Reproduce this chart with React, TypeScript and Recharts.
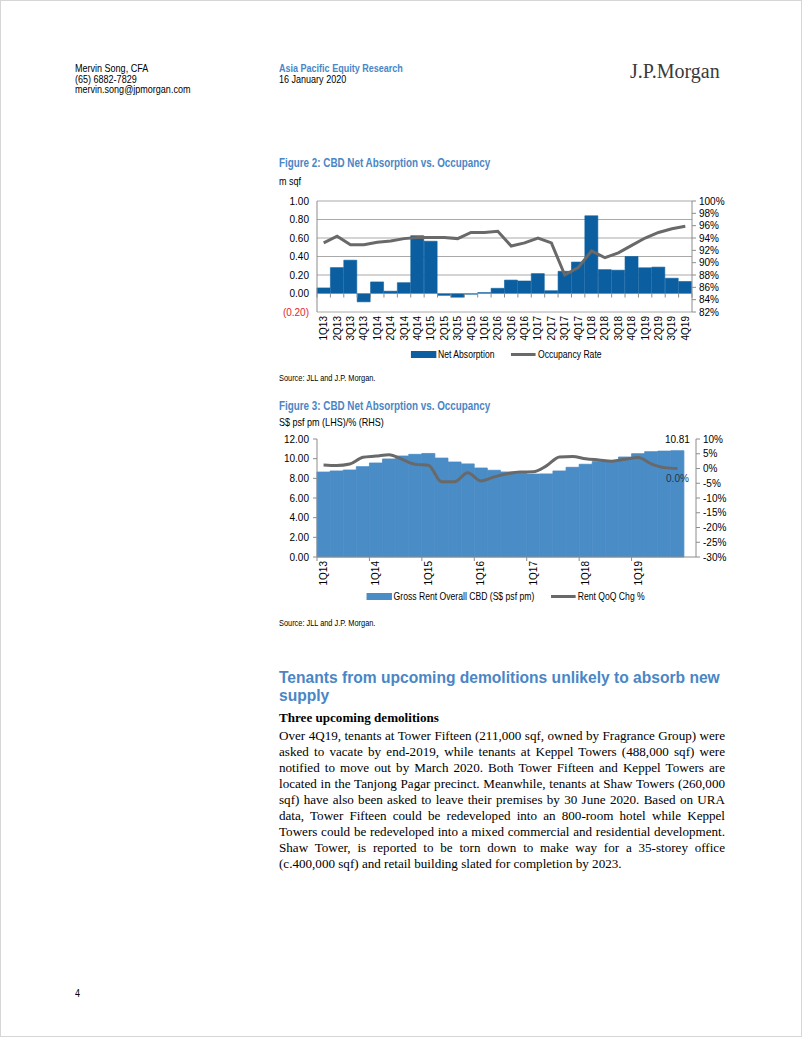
import React from 'react';
import {
  ComposedChart,
  Bar,
  Line,
  XAxis,
  YAxis,
  CartesianGrid,
  ReferenceLine,
  Legend,
  LabelList,
} from 'recharts';

// ---------- data ----------
const quarters = [
  '1Q13', '2Q13', '3Q13', '4Q13', '1Q14', '2Q14', '3Q14', '4Q14',
  '1Q15', '2Q15', '3Q15', '4Q15', '1Q16', '2Q16', '3Q16', '4Q16',
  '1Q17', '2Q17', '3Q17', '4Q17', '1Q18', '2Q18', '3Q18', '4Q18',
  '1Q19', '2Q19', '3Q19', '4Q19',
];

// Figure 2 (m sqf and %)
const netAbsorption = [
  0.06, 0.28, 0.36, -0.09, 0.125, 0.025, 0.117, 0.625,
  0.565, -0.02, -0.04, -0.008, 0.01, 0.056, 0.145, 0.135,
  0.215, 0.03, 0.24, 0.34, 0.84, 0.258, 0.252, 0.40,
  0.278, 0.285, 0.165, 0.13,
];
const occupancyRate = [
  93.2, 94.3, 92.9, 92.9, 93.3, 93.5, 93.9, 94.1,
  94.1, 94.1, 93.9, 94.9, 94.9, 95.1, 92.7, 93.2,
  94.0, 93.2, 88.0, 89.2, 91.9, 90.8, 91.6, 92.8,
  94.0, 94.9, 95.5, 95.9,
];
const absorptionTicks = [-0.2, 0, 0.2, 0.4, 0.6, 0.8, 1.0];
const occupancyTicks = [82, 84, 86, 88, 90, 92, 94, 96, 98, 100];

// Figure 3 (S$ psf pm and %)
const grossRent = [
  8.64, 8.75, 8.85, 9.19, 9.56, 9.97, 10.27, 10.44,
  10.53, 10.06, 9.66, 9.47, 9.05, 8.82, 8.65, 8.52,
  8.43, 8.45, 8.75, 9.12, 9.43, 9.72, 9.76, 10.17,
  10.51, 10.71, 10.77, 10.81,
];
const rentQoQ = [
  1.2, 1.0, 1.5, 3.8, 4.2, 4.7, 3.1, 1.4,
  1.1, -4.5, -4.5, -1.4, -4.2, -2.9, -1.8, -1.2,
  -1.1, 0.9, 3.9, 4.1, 3.3, 2.9, 2.5, 3.1,
  3.7, 1.6, 0.3, 0.0,
];
const rentTicks = [0, 2, 4, 6, 8, 10, 12];
const qoqTicks = [-30, -25, -20, -15, -10, -5, 0, 5, 10];

const fig2Data = quarters.map((q, i) => ({ q, abs: netAbsorption[i], occ: occupancyRate[i] }));
const fig3Data = quarters.map((q, i) => ({ q, rent: grossRent[i], qoq: rentQoQ[i] }));

const bodyLines = [
  'Over 4Q19, tenants at Tower Fifteen (211,000 sqf, owned by Fragrance Group) were',
  'asked to vacate by end-2019, while tenants at Keppel Towers (488,000 sqf) were',
  'notified to move out by March 2020. Both Tower Fifteen and Keppel Towers are',
  'located in the Tanjong Pagar precinct. Meanwhile, tenants at Shaw Towers (260,000',
  'sqf) have also been asked to leave their premises by 30 June 2020. Based on URA',
  'data, Tower Fifteen could be redeveloped into an 800-room hotel while Keppel',
  'Towers could be redeveloped into a mixed commercial and residential development.',
  'Shaw Tower, is reported to be torn down to make way for a 35-storey office',
  '(c.400,000 sqf) and retail building slated for completion by 2023.',
];

// ---------- styles ----------
const FONT = "'Liberation Sans', Arial, sans-serif";
const SERIF = "'Liberation Serif','Times New Roman',serif";
const BLUE_TXT = '#4A86C5';
const BAR1 = '#0B5FA0';
const BAR2 = '#4A8CC6';
const LINE_C = '#696969';
const AXIS_C = '#8c8c8c';
const GRID_C = '#a9a9a9';
const RED = '#E3262A';
const NARROW = 0.82;

// layout constants (chart 1)
const C1_W = 460;
const C1_H = 173;
const C1_TOP = 10;
const C1_LEFTW = 46;
const C1_RIGHTW = 39;
const C1_XH = 32;
const C1_LEG = 20;
const C1_PLOT_H = C1_H - C1_TOP - C1_XH - C1_LEG;
const C1_BAND = (C1_W - C1_LEFTW - C1_RIGHTW) / quarters.length;
const C1_ZERO_Y = C1_TOP + C1_PLOT_H * (1.0 / 1.2);

// chart 2
const C2_W = 460;
const C2_H = 176;
const C2_TOP = 10;
const C2_LEFTW = 46;
const C2_RIGHTW = 35;
const C2_PADR = 12;
const C2_XH = 30;
const C2_LEG = 18;
const C2_BAND = (C2_W - C2_LEFTW - C2_RIGHTW - C2_PADR) / quarters.length;

const AbsTick = (props: any) => {
  const { x, y, payload } = props;
  const v = Number(payload.value);
  const neg = v < 0;
  return (
    <text x={x} y={y} dy={3.5} textAnchor="end" fontSize={10} fontFamily={FONT} fill={neg ? RED : '#000'}>
      {neg ? `(${Math.abs(v).toFixed(2)})` : v.toFixed(2)}
    </text>
  );
};

const Fig2XTick = (props: any) => {
  const { x, y, payload, index } = props;
  const bx = x - C1_BAND / 2;
  return (
    <g>
      <line x1={bx} x2={bx} y1={C1_ZERO_Y} y2={C1_ZERO_Y + 4} stroke={AXIS_C} />
      {index === quarters.length - 1 && (
        <line x1={x + C1_BAND / 2} x2={x + C1_BAND / 2} y1={C1_ZERO_Y} y2={C1_ZERO_Y + 4} stroke={AXIS_C} />
      )}
      <text
        transform={`translate(${x},${y}) rotate(-90)`}
        dy={3.5}
        textAnchor="end"
        fontSize={10}
        fontFamily={FONT}
        fill="#000"
      >
        {payload.value}
      </text>
    </g>
  );
};

const Fig3XTick = (props: any) => {
  const { x, y, payload, index } = props;
  const bx = x - C2_BAND / 2;
  const axisY = y - 4;
  return (
    <g>
      <line x1={bx} x2={bx} y1={axisY} y2={axisY + 4} stroke={AXIS_C} />
      {index === 24 && (
        <line x1={bx + C2_BAND * 4} x2={bx + C2_BAND * 4} y1={axisY} y2={axisY + 4} stroke={AXIS_C} />
      )}
      <text
        transform={`translate(${x},${y}) rotate(-90)`}
        dy={3.5}
        textAnchor="end"
        fontSize={10}
        fontFamily={FONT}
        fill="#000"
      >
        {payload.value}
      </text>
    </g>
  );
};

// legend drawn with an Arial-Narrow look (whole row compressed around its centre)
const LegendBox = ({ items, height }: { items: { label: string; color: string; kind: 'bar' | 'line' }[]; height: number }) => (
  <div style={{ height, paddingLeft: 10, display: 'flex', justifyContent: 'center', alignItems: 'center' }}>
    <div
      style={{
        display: 'flex',
        alignItems: 'center',
        fontFamily: FONT,
        fontSize: 10.5,
        color: '#000',
        whiteSpace: 'nowrap',
        transform: `scaleX(${NARROW})`,
        transformOrigin: '50% 50%',
      }}
    >
      {items.map((it, i) => (
        <span key={it.label} style={{ display: 'inline-flex', alignItems: 'center', marginLeft: i === 0 ? 0 : 20 }}>
          <span
            style={{
              display: 'inline-block',
              width: 30.5,
              height: it.kind === 'bar' ? 7 : 3,
              background: it.color,
              marginRight: 2.5,
            }}
          />
          {it.label}
        </span>
      ))}
    </div>
  </div>
);

// Arial-Narrow-like text: Liberation Sans compressed horizontally
const N = ({ left, top, size, lh, style, children }: any) => (
  <div
    style={{
      position: 'absolute',
      left,
      top,
      whiteSpace: 'nowrap',
      fontFamily: FONT,
      fontSize: size,
      lineHeight: `${lh}px`,
      transform: `scaleX(${NARROW})`,
      transformOrigin: '0 0',
      ...style,
    }}
  >
    {children}
  </div>
);

export default function App() {
  const lastIdx = quarters.length - 1;
  return (
    <div
      style={{
        position: 'absolute',
        left: 0,
        top: 0,
        width: 802,
        height: 1037,
        background: '#fff',
        border: '1px solid #d6d6d6',
        boxSizing: 'border-box',
        overflow: 'hidden',
        fontFamily: FONT,
        color: '#000',
      }}
    >
      {/* header */}
      <N left={74} top={62} size={11} lh={10.7}>
        <div>Mervin Song, CFA</div>
        <div>(65) 6882-7829</div>
        <div>mervin.song@jpmorgan.com</div>
      </N>
      <N left={278} top={62} size={11} lh={10.7}>
        <div style={{ color: BLUE_TXT, fontWeight: 'bold' }}>Asia Pacific Equity Research</div>
        <div>16 January 2020</div>
      </N>
      <div
        style={{
          position: 'absolute',
          left: 629,
          top: 58,
          fontSize: 20,
          lineHeight: '24px',
          fontFamily: SERIF,
          color: '#3a3a3a',
          whiteSpace: 'nowrap',
        }}
      >
        J.P.Morgan
      </div>

      {/* Figure 2 */}
      <N left={278} top={154} size={12} lh={16} style={{ fontWeight: 'bold', color: BLUE_TXT }}>
        Figure 2: CBD Net Absorption vs. Occupancy
      </N>
      <N left={278} top={173} size={11} lh={14}>
        m sqf
      </N>
      <div style={{ position: 'absolute', left: 270, top: 190 }}>
        <ComposedChart
          width={C1_W}
          height={C1_H}
          data={fig2Data}
          margin={{ top: C1_TOP, right: 0, bottom: 0, left: 0 }}
          barCategoryGap={0}
          barGap={0}
        >
          <CartesianGrid yAxisId="left" vertical={false} stroke={GRID_C} />
          <XAxis
            dataKey="q"
            interval={0}
            axisLine={false}
            tickLine={false}
            tickSize={0}
            tickMargin={4}
            height={C1_XH}
            tick={<Fig2XTick />}
          />
          <YAxis
            yAxisId="left"
            orientation="left"
            width={C1_LEFTW}
            domain={[-0.2, 1.0]}
            ticks={absorptionTicks}
            interval={0}
            axisLine={{ stroke: AXIS_C }}
            tickLine={false}
            tickSize={4}
            tickMargin={4}
            tick={<AbsTick />}
          />
          <YAxis
            yAxisId="right"
            orientation="right"
            width={C1_RIGHTW}
            domain={[82, 100]}
            ticks={occupancyTicks}
            interval={0}
            axisLine={{ stroke: AXIS_C }}
            tickLine={{ stroke: AXIS_C }}
            tickSize={4}
            tickMargin={3}
            tick={{ fontSize: 10, fontFamily: FONT, fill: '#000' }}
            tickFormatter={(v: number) => `${v}%`}
          />
          <Bar
            yAxisId="left"
            dataKey="abs"
            name="Net Absorption"
            fill={BAR1}
            stroke={BAR1}
            strokeWidth={0.6}
            isAnimationActive={false}
          />
          <ReferenceLine yAxisId="left" y={0} stroke={AXIS_C} />
          <Line
            yAxisId="right"
            dataKey="occ"
            name="Occupancy Rate"
            type="linear"
            stroke={LINE_C}
            strokeWidth={3}
            dot={false}
            isAnimationActive={false}
          />
          <Legend
            verticalAlign="bottom"
            height={C1_LEG}
            wrapperStyle={{ height: C1_LEG }}
            content={() => (
              <LegendBox
                height={C1_LEG}
                items={[
                  { label: 'Net Absorption', color: BAR1, kind: 'bar' },
                  { label: 'Occupancy Rate', color: LINE_C, kind: 'line' },
                ]}
              />
            )}
          />
        </ComposedChart>
      </div>
      <N left={278} top={371} size={9} lh={12}>
        Source: JLL and J.P. Morgan.
      </N>

      {/* Figure 3 */}
      <N left={278} top={397} size={12} lh={16} style={{ fontWeight: 'bold', color: BLUE_TXT }}>
        Figure 3: CBD Net Absorption vs. Occupancy
      </N>
      <N left={278} top={414} size={11} lh={14}>
        S$ psf pm (LHS)/% (RHS)
      </N>
      <div style={{ position: 'absolute', left: 270, top: 428 }}>
        <ComposedChart
          width={C2_W}
          height={C2_H}
          data={fig3Data}
          margin={{ top: C2_TOP, right: 0, bottom: 0, left: 0 }}
          barCategoryGap={0}
          barGap={0}
        >
          <XAxis
            dataKey="q"
            interval={3}
            padding={{ left: 0, right: C2_PADR }}
            axisLine={{ stroke: AXIS_C }}
            tickLine={false}
            tickSize={0}
            tickMargin={4}
            height={C2_XH}
            tick={<Fig3XTick />}
          />
          <YAxis
            yAxisId="left"
            orientation="left"
            width={C2_LEFTW}
            domain={[0, 12]}
            ticks={rentTicks}
            interval={0}
            axisLine={{ stroke: AXIS_C }}
            tickLine={{ stroke: AXIS_C }}
            tickSize={4}
            tickMargin={4}
            tick={{ fontSize: 10, fontFamily: FONT, fill: '#000' }}
            tickFormatter={(v: number) => v.toFixed(2)}
          />
          <YAxis
            yAxisId="right"
            orientation="right"
            width={C2_RIGHTW}
            domain={[-30, 10]}
            ticks={qoqTicks}
            interval={0}
            axisLine={{ stroke: AXIS_C }}
            tickLine={{ stroke: AXIS_C }}
            tickSize={4}
            tickMargin={3}
            tick={{ fontSize: 10, fontFamily: FONT, fill: '#000' }}
            tickFormatter={(v: number) => `${v}%`}
          />
          <Bar
            yAxisId="left"
            dataKey="rent"
            name="Gross Rent Overall CBD (S$ psf pm)"
            fill={BAR2}
            stroke={BAR2}
            strokeWidth={0.8}
            isAnimationActive={false}
          >
            <LabelList
              dataKey="rent"
              content={(p: any) =>
                p.index === lastIdx ? (
                  <text
                    x={p.x + p.width / 2}
                    y={p.y - 8}
                    textAnchor="middle"
                    fontSize={10}
                    fontFamily={FONT}
                    fill="#000"
                  >
                    {Number(p.value).toFixed(2)}
                  </text>
                ) : null
              }
            />
          </Bar>
          <Line
            yAxisId="right"
            dataKey="qoq"
            name="Rent QoQ Chg %"
            type="monotone"
            stroke={LINE_C}
            strokeWidth={3}
            dot={false}
            isAnimationActive={false}
          >
            <LabelList
              dataKey="qoq"
              content={(p: any) =>
                p.index === lastIdx ? (
                  <text x={p.x} y={p.y + 13} textAnchor="middle" fontSize={10} fontFamily={FONT} fill="#22364f">
                    {`${Number(p.value).toFixed(1)}%`}
                  </text>
                ) : null
              }
            />
          </Line>
          <Legend
            verticalAlign="bottom"
            height={C2_LEG}
            wrapperStyle={{ height: C2_LEG }}
            content={() => (
              <LegendBox
                height={C2_LEG}
                items={[
                  { label: 'Gross Rent Overall CBD (S$ psf pm)', color: BAR2, kind: 'bar' },
                  { label: 'Rent QoQ Chg %', color: LINE_C, kind: 'line' },
                ]}
              />
            )}
          />
        </ComposedChart>
      </div>
      <N left={278} top={616} size={9} lh={12}>
        Source: JLL and J.P. Morgan.
      </N>

      {/* Section */}
      <div
        style={{
          position: 'absolute',
          left: 278,
          top: 668,
          width: 450,
          fontFamily: FONT,
          fontWeight: 'bold',
          fontSize: 15.6,
          lineHeight: '18px',
          color: BLUE_TXT,
        }}
      >
        <div style={{ whiteSpace: 'nowrap' }}>Tenants from upcoming demolitions unlikely to absorb new</div>
        <div>supply</div>
      </div>
      <div
        style={{
          position: 'absolute',
          left: 278,
          top: 709,
          fontFamily: SERIF,
          fontWeight: 'bold',
          fontSize: 13.1,
          lineHeight: '16px',
          whiteSpace: 'nowrap',
        }}
      >
        Three upcoming demolitions
      </div>
      <div
        style={{
          position: 'absolute',
          left: 278,
          top: 727,
          width: 446,
          fontFamily: SERIF,
          fontSize: 13.1,
          lineHeight: '16px',
        }}
      >
        {bodyLines.map((l, i) => (
          <div
            key={i}
            style={{
              whiteSpace: 'nowrap',
              textAlign: 'justify',
              textAlignLast: i === bodyLines.length - 1 ? 'left' : 'justify',
            }}
          >
            {l}
          </div>
        ))}
      </div>

      <N left={74} top={986} size={11} lh={12}>
        4
      </N>
    </div>
  );
}
